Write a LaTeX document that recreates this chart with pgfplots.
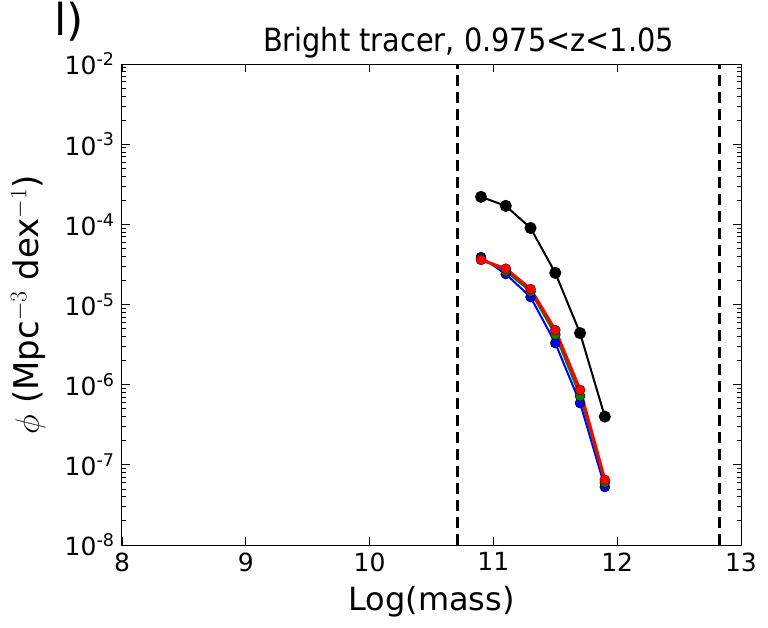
\documentclass[border=0pt]{standalone}
\usepackage{fix-cm}
\usepackage{pgfplots}
\pgfplotsset{compat=1.18}
\usepackage{fontspec}
\setmainfont{DejaVu Sans}
\newfontfamily\condfont{DejaVu Sans Condensed}
\begin{document}
\begin{tikzpicture}
\begin{axis}[
  scale only axis, width=619pt, height=481pt,
  xmin=8, xmax=13, ymode=log, ymin=1e-8, ymax=1e-2,
  xtick={8,9,10,11,12,13},
  ytick={1e-8,1e-7,1e-6,1e-5,1e-4,1e-3,1e-2},
  yticklabels={10\textsuperscript{-8},10\textsuperscript{-7},10\textsuperscript{-6},10\textsuperscript{-5},10\textsuperscript{-4},10\textsuperscript{-3},10\textsuperscript{-2}},
  /pgf/number format/assume math mode=true,
  tick align=inside, major tick length=8pt, minor tick length=4pt,
  tick style={black, line width=0.8pt},
  ticklabel style={font=\fontsize{25}{30}\selectfont},
  xticklabel style={yshift=-4pt},
  yticklabel style={xshift=-4pt},
  axis line style={line width=1pt},
  xlabel={Log(mass)}, ylabel={$\phi$ (Mpc$^{-3}$ dex$^{-1}$)},
  xlabel style={font=\fontsize{32}{38}\selectfont, yshift=-8pt},
  ylabel style={font=\fontsize{34}{40}\selectfont, yshift=12pt},
  title={\condfont Bright tracer, 0.975<z<1.05},
  title style={font=\fontsize{32}{38}\selectfont, yshift=-4pt, xshift=37pt},
  clip=true,
]
\addplot[black, line width=3pt, dash pattern=on 11pt off 6pt] coordinates {(10.706,1e-8) (10.706,1e-2)};
\addplot[black, line width=3pt, dash pattern=on 11pt off 6pt] coordinates {(12.83,1e-8) (12.83,1e-2)};
\addplot[black, line width=2pt, mark=*, mark size=5pt, mark options={fill=black}] coordinates {
(10.9,2.2e-4) (11.1,1.7e-4) (11.3,9.0e-5) (11.5,2.48e-5) (11.7,4.4e-6) (11.9,4.0e-7)};
\addplot[blue, line width=2pt, mark=*, mark size=5pt, mark options={fill=blue, draw=black, line width=0.5pt}] coordinates {
(10.9,3.9e-5) (11.1,2.4e-5) (11.3,1.24e-5) (11.5,3.3e-6) (11.7,5.9e-7) (11.9,5.3e-8)};
\addplot[green!50!black, line width=2pt, mark=*, mark size=5pt, mark options={fill=green!50!black, draw=black, line width=0.5pt}] coordinates {
(10.9,3.7e-5) (11.1,2.6e-5) (11.3,1.45e-5) (11.5,4.2e-6) (11.7,7.2e-7) (11.9,6.0e-8)};
\addplot[red, line width=3pt, mark=*, mark size=5pt, mark options={fill=red, draw=black!60!red, line width=0.5pt}] coordinates {
(10.9,3.6e-5) (11.1,2.8e-5) (11.3,1.56e-5) (11.5,4.8e-6) (11.7,8.6e-7) (11.9,6.5e-8)};
\end{axis}
\node[anchor=north west, font=\fontsize{44}{52}\selectfont, inner sep=0pt] at (-68pt,543pt) {l)};
\useasboundingbox (-122pt,-82pt) rectangle (646pt,545pt);
\end{tikzpicture}
\end{document}
